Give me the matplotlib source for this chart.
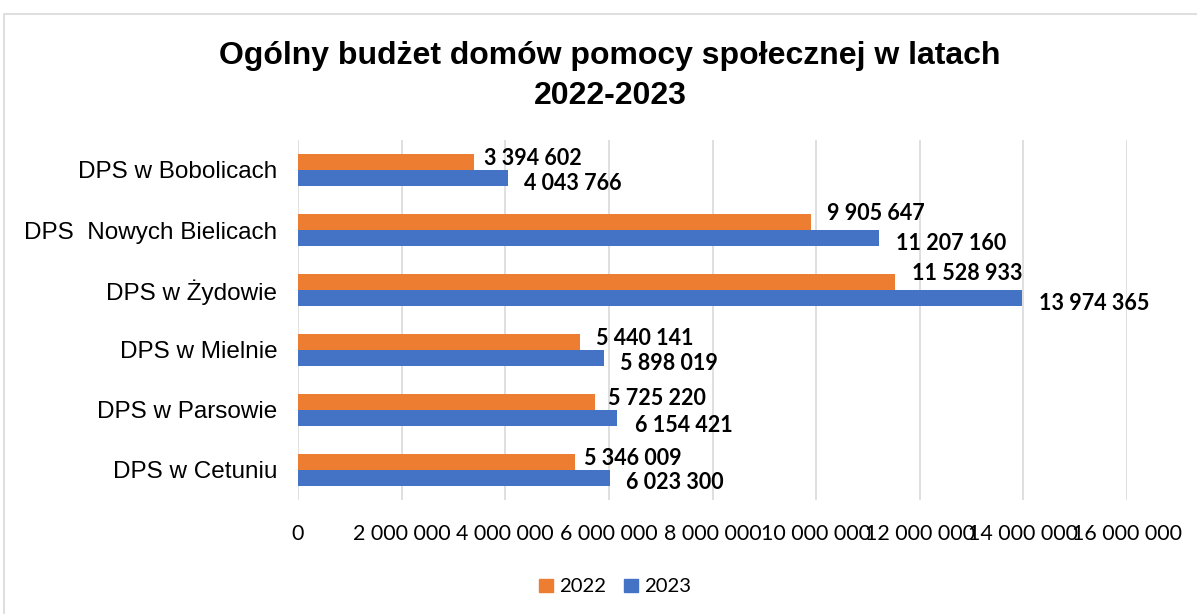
import matplotlib; matplotlib.use("Agg")
import matplotlib.pyplot as plt
from matplotlib.patches import Rectangle, Patch
from matplotlib.ticker import FuncFormatter
import numpy as np

# data
categories = ["DPS w Bobolicach", "DPS  Nowych Bielicach", "DPS w Żydowie",
              "DPS w Mielnie", "DPS w Parsowie", "DPS w Cetuniu"]
budget_2022 = [3394602, 9905647, 11528933, 5440141, 5725220, 5346009]
budget_2023 = [4043766, 11207160, 13974365, 5898019, 6154421, 6023300]
x_ticks = [0, 2000000, 4000000, 6000000, 8000000, 10000000, 12000000, 14000000, 16000000]

ORANGE = "#ED7D31"; BLUE = "#4472C4"; GRID = "#D9D9D9"
SANS = ["Liberation Sans", "DejaVu Sans"]
CAL = ["Lato", "DejaVu Sans"]

def fmt(v):
    return f"{int(v):,}".replace(",", " ")

fig = plt.figure(figsize=(11.97, 6.14), dpi=100)
fig.patches.append(Rectangle((4/1197, -0.1), 1.2, 1.077, transform=fig.transFigure,
                             fc="none", ec=GRID, lw=1.2))
ax = fig.add_axes([298/1197, 1-500/614, 829/1197, 360/614])

y = np.arange(len(categories))
h = 0.267
ax.barh(y - h/2, budget_2022, height=h, color=ORANGE, zorder=3)
ax.barh(y + h/2, budget_2023, height=h, color=BLUE, zorder=3)

ax.set_ylim(len(categories) - 0.5, -0.5)
ax.set_xlim(0, 16000000)
ax.set_xticks(x_ticks)
ax.xaxis.set_major_formatter(FuncFormatter(lambda v, p: fmt(v)))
ax.set_yticks(y)
ax.set_yticklabels(categories, family=SANS, fontsize=17.5)
for t in ax.get_xticklabels():
    t.set_family(CAL); t.set_fontsize(15.4)
ax.tick_params(axis="x", length=0, pad=17)
ax.tick_params(axis="y", length=0, pad=15)
ax.grid(axis="x", color=GRID, lw=1.2, zorder=0)
for s in ax.spines.values():
    s.set_visible(False)

# value labels (pixel offsets from bar end, y up)
off_2022 = [(10, 3), (16, 8), (17, 8), (16, 3), (13, 3), (9, 3)]
off_2023 = [(16, -5), (17, -5), (17, -5), (16, -5), (18, -7), (16, -4)]
for i in range(len(categories)):
    ax.annotate(fmt(budget_2022[i]), (budget_2022[i], y[i] - h/2), xytext=off_2022[i],
                textcoords="offset pixels", ha="left", va="center",
                family=CAL, fontweight="bold", fontsize=15.5)
    ax.annotate(fmt(budget_2023[i]), (budget_2023[i], y[i] + h/2), xytext=off_2023[i],
                textcoords="offset pixels", ha="left", va="center",
                family=CAL, fontweight="bold", fontsize=15.5)

fig.text(610/1197, 1-76/614, "Ogólny budżet domów pomocy społecznej w latach\n2022-2023",
         ha="center", va="center", family=SANS, fontweight="bold", fontsize=23, linespacing=1.42)

handles = [Patch(color=ORANGE, label="2022"), Patch(color=BLUE, label="2023")]
fig.legend(handles=handles, loc="center", bbox_to_anchor=(615/1197, 1-587/614), ncol=2,
           frameon=False, prop={"family": CAL, "size": 14.6},
           handlelength=0.7, handleheight=0.65, handletextpad=0.3, columnspacing=0.9)

fig.savefig("out.png", dpi=100)
